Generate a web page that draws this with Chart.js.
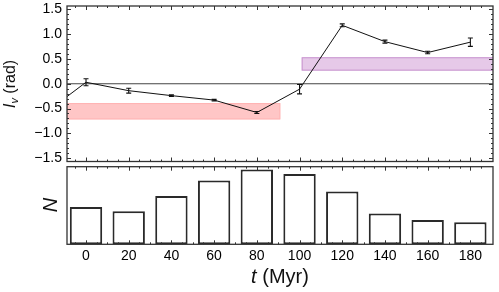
<!DOCTYPE html>
<html><head><meta charset="utf-8">
<script src="https://cdn.jsdelivr.net/npm/chart.js@4.4.0/dist/chart.umd.min.js"></script>
<style>
html,body{margin:0;padding:0;background:#fff;width:499px;height:292px;overflow:hidden}
#c1{position:absolute;left:0;top:0}
#c2{position:absolute;left:0;top:163px}
</style></head><body>
<canvas id="c1" width="499" height="166"></canvas>
<canvas id="c2" width="499" height="129"></canvas>
<script>
// ---- data ----
const times = [-20, 0, 20, 40, 60, 80, 100, 120, 140, 160, 180];
const lv = [-0.62, 0.03, -0.14, -0.24, -0.33, -0.58, -0.11, 1.18, 0.85, 0.63, 0.84];
const lvErr = [0, 0.07, 0.05, 0.015, 0.015, 0.02, 0.095, 0.03, 0.03, 0.025, 0.085];
const binCenters = [0, 20, 40, 60, 80, 100, 120, 140, 160, 180];
const counts = [17, 15, 22, 29, 34, 32, 24, 14, 11, 10];
const redBand = {x0: -9, x1: 91, y0: -0.72, y1: -0.39};
const purpleBand = {x0: 101, x1: 192, y0: 0.265, y1: 0.535};
const yTickLabels = ['\u22121.5', '\u22121.0', '\u22120.5', '0.0', '0.5', '1.0', '1.5'];
const yLabel = ['l', 'v', ' (rad)'];
const xLabel = ['t', ' (Myr)'];
const nLabel = 'N';

const FONT = "'Liberation Sans', Arial, sans-serif";
const X_MIN = -8.9, X_MAX = 190.6;

function frame(chart, yTicks) {
  const {ctx, chartArea: a, scales: {x, y}} = chart;
  ctx.save();
  ctx.strokeStyle = '#333';
  ctx.lineWidth = 1;
  ctx.beginPath();
  for (let v = -5; v <= 190; v += 5) {
    const px = Math.round(x.getPixelForValue(v)) + 0.5;
    if (px < a.left + 1 || px > a.right - 1) continue;
    const len = (v % 20 === 0) ? 4 : 2;
    ctx.moveTo(px, a.bottom); ctx.lineTo(px, a.bottom - len);
    ctx.moveTo(px, a.top); ctx.lineTo(px, a.top + len);
  }
  if (yTicks) {
    for (let i = -15; i <= 15; i++) {
      const v = i / 10;
      const py = Math.round(y.getPixelForValue(v)) + 0.5;
      if (py < a.top + 1 || py > a.bottom - 1) continue;
      const len = (i % 5 === 0) ? 4 : 2;
      ctx.moveTo(a.left, py); ctx.lineTo(a.left + len, py);
      ctx.moveTo(a.right, py); ctx.lineTo(a.right - len, py);
    }
  }
  ctx.stroke();
  ctx.lineWidth = 1.3;
  ctx.strokeRect(a.left, a.top, a.right - a.left, a.bottom - a.top);
  ctx.restore();
}

const topPlugin = {
  id: 'topPlugin',
  beforeDatasetsDraw(chart) {
    const {ctx, chartArea: a, scales: {x, y}} = chart;
    ctx.save();
    ctx.beginPath();
    ctx.rect(a.left, a.top, a.right - a.left, a.bottom - a.top);
    ctx.clip();
    const band = (b, fill, stroke) => {
      const l = x.getPixelForValue(b.x0), r = x.getPixelForValue(b.x1);
      const t = y.getPixelForValue(b.y1), bt = y.getPixelForValue(b.y0);
      ctx.fillStyle = fill;
      ctx.fillRect(l, t, r - l, bt - t);
      ctx.strokeStyle = stroke;
      ctx.lineWidth = 1;
      ctx.strokeRect(l + 0.5, t + 0.5, r - l - 1, bt - t - 1);
    };
    band(redBand, '#ffc6c6', '#ffb4b4');
    band(purpleBand, '#e6c9e8', '#c894cf');
    const y0 = y.getPixelForValue(0);
    ctx.strokeStyle = '#444';
    ctx.lineWidth = 1.2;
    ctx.beginPath();
    ctx.moveTo(a.left, y0); ctx.lineTo(a.right, y0);
    ctx.stroke();
    ctx.restore();
  },
  afterDatasetsDraw(chart) {
    const {ctx, chartArea: a, scales: {x, y}} = chart;
    ctx.save();
    ctx.strokeStyle = '#111';
    ctx.lineWidth = 1.1;
    ctx.beginPath();
    for (let i = 0; i < times.length; i++) {
      if (lvErr[i] <= 0) continue;
      const px = x.getPixelForValue(times[i]);
      if (px < a.left || px > a.right) continue;
      const t = y.getPixelForValue(lv[i] + lvErr[i]);
      const b = y.getPixelForValue(lv[i] - lvErr[i]);
      ctx.moveTo(px, t); ctx.lineTo(px, b);
      ctx.moveTo(px - 2.5, t); ctx.lineTo(px + 2.5, t);
      ctx.moveTo(px - 2.5, b); ctx.lineTo(px + 2.5, b);
    }
    ctx.stroke();
    ctx.restore();
    frame(chart, true);
  },
  afterDraw(chart) {
    const {ctx, chartArea: a, scales: {y}} = chart;
    ctx.save();
    ctx.fillStyle = '#000';
    // y tick labels, positioned by the y scale's own ticks
    ctx.font = "14px " + FONT;
    ctx.textAlign = 'right';
    ctx.textBaseline = 'middle';
    y.ticks.forEach((t, i) => {
      ctx.fillText(yTickLabels[i], a.left - 5, y.getPixelForValue(t.value));
    });
    ctx.restore();
    ctx.save();
    ctx.fillStyle = '#111';
    ctx.translate(15, 84);
    ctx.rotate(-Math.PI / 2);
    ctx.textBaseline = 'alphabetic';
    const f1 = "italic 16px " + FONT, f2 = "italic 11px " + FONT, f3 = "16px " + FONT;
    ctx.font = f1; const w1 = ctx.measureText(yLabel[0]).width;
    ctx.font = f2; const w2 = ctx.measureText(yLabel[1]).width;
    ctx.font = f3; const w3 = ctx.measureText(yLabel[2]).width;
    let sx = -(w1 + w2 + w3) / 2;
    ctx.font = f1; ctx.fillText(yLabel[0], sx, 0); sx += w1 + 0.5;
    ctx.font = f2; ctx.fillText(yLabel[1], sx, 3); sx += w2;
    ctx.font = f3; ctx.fillText(yLabel[2], sx, 0);
    ctx.restore();
  }
};

const bottomPlugin = {
  id: 'bottomPlugin',
  afterDatasetsDraw(chart) { frame(chart, false); },
  afterDraw(chart) {
    const {ctx} = chart;
    ctx.save();
    ctx.fillStyle = '#111';
    ctx.textBaseline = 'alphabetic';
    ctx.save();
    ctx.translate(56.5, 42);
    ctx.rotate(-Math.PI / 2);
    ctx.font = "italic 20px " + FONT;
    ctx.textAlign = 'center';
    ctx.fillText(nLabel, 0, 0);
    ctx.restore();
    const f1 = "italic 20px " + FONT, f2 = "20px " + FONT;
    ctx.font = f1; const w1 = ctx.measureText(xLabel[0]).width;
    ctx.font = f2; const w2 = ctx.measureText(xLabel[1]).width;
    let sx = 280 - (w1 + w2) / 2;
    ctx.font = f1; ctx.fillText(xLabel[0], sx, 120); sx += w1;
    ctx.font = f2; ctx.fillText(xLabel[1], sx, 120);
    ctx.restore();
  }
};

new Chart(document.getElementById('c1'), {
  type: 'line',
  data: {
    datasets: [{
      data: times.map((t, i) => ({x: t, y: lv[i]})),
      borderColor: '#111',
      borderWidth: 1,
      pointRadius: 0,
      tension: 0,
      fill: false
    }]
  },
  options: {
    responsive: false,
    animation: false,
    devicePixelRatio: 1,
    layout: {padding: {left: 0, right: 6, top: 6, bottom: 4.5}},
    plugins: {legend: {display: false}, tooltip: {enabled: false}},
    scales: {
      x: {type: 'linear', display: false, min: X_MIN, max: X_MAX},
      y: {
        type: 'linear', min: -1.57, max: 1.57,
        afterFit(s) { s.width = 67; },
        grid: {display: false, drawTicks: false},
        border: {display: false},
        ticks: {stepSize: 0.5, includeBounds: false, display: false}
      }
    }
  },
  plugins: [topPlugin]
});

new Chart(document.getElementById('c2'), {
  type: 'bar',
  data: {
    datasets: [{
      data: binCenters.map((t, i) => ({x: t, y: counts[i]})),
      backgroundColor: '#fff',
      borderColor: '#2a2a2a',
      borderWidth: 2,
      borderSkipped: false,
      barPercentage: 0.758,
      categoryPercentage: 1
    }]
  },
  options: {
    responsive: false,
    animation: false,
    devicePixelRatio: 1,
    layout: {padding: {left: 67, right: 6, top: 3.7, bottom: 0}},
    plugins: {legend: {display: false}, tooltip: {enabled: false}},
    scales: {
      x: {
        type: 'linear', min: X_MIN, max: X_MAX, offset: false,
        afterFit(s) { s.height = 47.7; },
        grid: {display: false, drawTicks: false},
        border: {display: false},
        ticks: {
          stepSize: 20, includeBounds: false, padding: 3, color: '#000',
          autoSkip: false, maxRotation: 0,
          font: {family: FONT, size: 14}
        }
      },
      y: {type: 'linear', display: false, min: 0, max: 35.3}
    }
  },
  plugins: [bottomPlugin]
});
</script>
</body></html>
